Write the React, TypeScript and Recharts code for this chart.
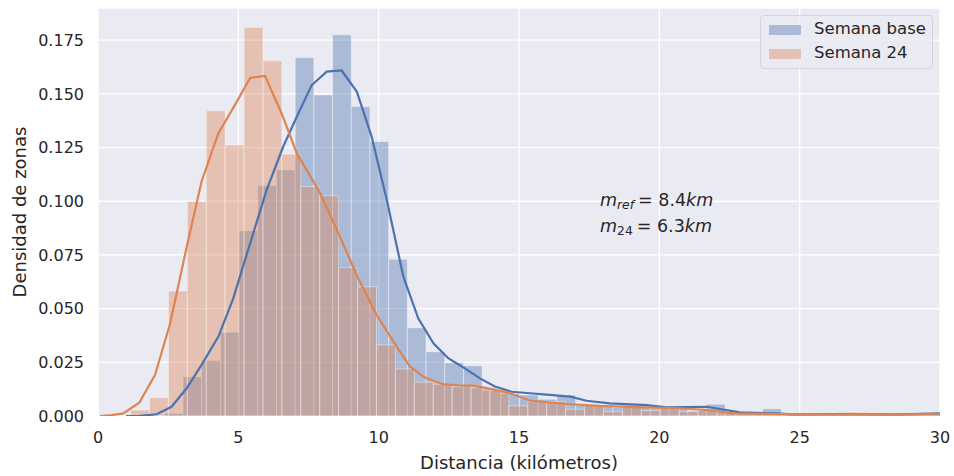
import React from 'react';
import { ComposedChart, Line, XAxis, YAxis, CartesianGrid, ReferenceArea } from 'recharts';

const BLUE = '#4C72B0';
const ORANGE = '#DD8452';
const TEXT = '#262626';
const FONT = 'DejaVu Sans';

// histogram bins (km): first left edge and bin width, densities
const baseBinStart = 2.364;
const baseBinWidth = 0.666;
const baseHeights = [
  0.0012, 0.0183, 0.0258, 0.039, 0.0863, 0.1073, 0.1146, 0.1669, 0.1495, 0.1775,
  0.1441, 0.1278, 0.073, 0.0411, 0.0299, 0.0248, 0.0234, 0.012, 0.0105, 0.0098,
  0.0078, 0.0098, 0.005, 0.0045, 0.004, 0.0045, 0.0036, 0.004, 0.0025, 0.0055,
  0.0016, 0.0012, 0.0034, 0.001, 0.0008, 0.0008, 0.0017, 0.001, 0.0008, 0.001,
  0.0012, 0.0015,
];

const w24BinStart = 1.16;
const w24BinWidth = 0.674;
const w24Heights = [
  0.0028, 0.0085, 0.0582, 0.0999, 0.1421, 0.1262, 0.181, 0.1654, 0.1219, 0.1068,
  0.1026, 0.0691, 0.0602, 0.0331, 0.0219, 0.0157, 0.0148, 0.0137, 0.0132, 0.0121,
  0.0047, 0.0067, 0.0067, 0.0031, 0.0051, 0.002, 0.0054, 0.0025, 0.0043, 0.002,
  0.0036, 0.0016, 0.001, 0.001, 0.0008, 0.0006, 0.0006, 0.0008, 0.0018, 0.0008,
  0.0006, 0.0008, 0.0012,
];

// KDE curves
const baseKdeX = [
  1.0, 1.5, 2.09, 2.62, 3.16, 3.69, 4.29, 4.82, 5.42, 6.01, 6.6, 7.14, 7.61, 8.15, 8.68,
  9.22, 9.75, 10.29, 10.88, 11.41, 11.95, 12.48, 13.07, 13.61, 14.14, 14.74, 15.39, 16.1,
  16.82, 17.41, 18.24, 19.55, 20.26, 21.69, 22.87, 24.18, 24.77, 26.2, 28.57, 30,
];
const baseKdeY = [
  0, 0.0001, 0.0008, 0.0043, 0.0129, 0.0238, 0.037, 0.0548, 0.0804, 0.1053, 0.1255, 0.141,
  0.154, 0.1604, 0.1609, 0.1511, 0.1301, 0.1006, 0.0649, 0.0455, 0.0339, 0.0269, 0.0222,
  0.0175, 0.0137, 0.0113, 0.0106, 0.0098, 0.009, 0.0071, 0.0059, 0.0051, 0.004, 0.0043,
  0.0017, 0.0012, 0.0008, 0.0009, 0.0008, 0.0012,
];

const w24KdeX = [
  0.07, 0.5, 0.9, 1.47, 2.03, 2.57, 3.16, 3.69, 4.29, 4.88, 5.42, 5.95, 6.54, 7.08, 7.91,
  8.62, 9.27, 9.93, 10.64, 11.12, 11.65, 12.3, 13.01, 13.37, 14.08, 14.68, 15.39, 16.7,
  17.88, 19.42, 20.73, 21.69, 22.63, 24.4, 26.2, 27.38, 28.57, 30,
];
const w24KdeY = [
  0, 0.0004, 0.0012, 0.0062, 0.0191, 0.0431, 0.0787, 0.1092, 0.1317, 0.1449, 0.1574,
  0.1584, 0.141, 0.1224, 0.104, 0.0835, 0.0641, 0.047, 0.0323, 0.023, 0.0179, 0.0148,
  0.0141, 0.0141, 0.0124, 0.0106, 0.0072, 0.0056, 0.0047, 0.004, 0.0036, 0.0028, 0.0012,
  0.0009, 0.0008, 0.0009, 0.0008, 0.0009,
];

const xTicks = [0, 5, 10, 15, 20, 25, 30];
const yTicks = [0, 0.025, 0.05, 0.075, 0.1, 0.125, 0.15, 0.175];

const toPoints = (xs: number[], ys: number[]) => xs.map((x, i) => ({ x, y: ys[i] }));
const baseKde = toPoints(baseKdeX, baseKdeY);
const w24Kde = toPoints(w24KdeX, w24KdeY);

const bins = (start: number, width: number, heights: number[]) =>
  heights.map((h, i) => ({ x1: start + i * width, x2: start + (i + 1) * width, h }));

const baseBins = bins(baseBinStart, baseBinWidth, baseHeights);
const w24Bins = bins(w24BinStart, w24BinWidth, w24Heights);

const renderBins = (list: { x1: number; x2: number; h: number }[], color: string, key: string) =>
  list.map((b, i) => (
    <ReferenceArea
      key={key + i}
      x1={b.x1}
      x2={b.x2}
      y1={0}
      y2={b.h}
      fill={color}
      fillOpacity={0.4}
      stroke="#ffffff"
      strokeOpacity={0.4}
      strokeWidth={1}
      ifOverflow="hidden"
    />
  ));

const YLabel = () => (
  <text
    transform="translate(19,212) rotate(-90)"
    textAnchor="middle"
    dominantBaseline="central"
    fontFamily={FONT}
    fontSize={18}
    fill={TEXT}
  >
    Densidad de zonas
  </text>
);

export default function App() {
  return (
    <div style={{ position: 'absolute', left: 0, top: 0, width: 954, height: 476, fontFamily: FONT }}>
      <ComposedChart width={954} height={476} margin={{ top: 8, right: 14, left: 0, bottom: 0 }}>
        <CartesianGrid fill="#EAEAF2" stroke="#ffffff" strokeWidth={1.3} />
        <XAxis
          type="number"
          dataKey="x"
          domain={[0, 30]}
          ticks={xTicks}
          allowDataOverflow
          height={60}
          tickLine={false}
          axisLine={false}
          tickMargin={10}
          tick={{ fill: TEXT, fontSize: 16, fontFamily: FONT }}
          label={{
            value: 'Distancia (kilómetros)',
            position: 'insideBottom',
            offset: 7,
            fill: TEXT,
            fontSize: 18,
            fontFamily: FONT,
          }}
        />
        <YAxis
          type="number"
          domain={[0, 0.19]}
          ticks={yTicks}
          allowDataOverflow
          width={98}
          tickLine={false}
          axisLine={false}
          tickMargin={8}
          tickFormatter={(v: number) => v.toFixed(3)}
          tick={{ fill: TEXT, fontSize: 16, fontFamily: FONT }}
          label={{ content: () => <YLabel /> }}
        />
        {renderBins(baseBins, BLUE, 'b')}
        {renderBins(w24Bins, ORANGE, 'o')}
        <Line
          data={baseKde}
          dataKey="y"
          type="linear"
          stroke={BLUE}
          strokeWidth={2.2}
          dot={false}
          isAnimationActive={false}
        />
        <Line
          data={w24Kde}
          dataKey="y"
          type="linear"
          stroke={ORANGE}
          strokeWidth={2.2}
          dot={false}
          isAnimationActive={false}
        />
      </ComposedChart>

      <svg width={954} height={476} style={{ position: 'absolute', left: 0, top: 0, pointerEvents: 'none' }}>
        <text x={600} y={206} fontFamily={FONT} fontSize={17.5} fill={TEXT}>
          <tspan fontStyle="italic">m</tspan>
          <tspan fontStyle="italic" fontSize={12.3} dy={3}>ref</tspan>
          <tspan dy={-3} dx={4}>{'= 8.4'}</tspan>
          <tspan fontStyle="italic">km</tspan>
        </text>
        <text x={600} y={232} fontFamily={FONT} fontSize={17.5} fill={TEXT}>
          <tspan fontStyle="italic">m</tspan>
          <tspan fontSize={12.3} dy={3}>24</tspan>
          <tspan dy={-3} dx={4}>{'= 6.3'}</tspan>
          <tspan fontStyle="italic">km</tspan>
        </text>
      </svg>

      <div
        style={{
          position: 'absolute',
          left: 760,
          top: 15,
          width: 171,
          height: 52,
          boxSizing: 'content-box',
          background: 'rgba(234,234,242,0.8)',
          border: '1px solid #d4d4dc',
          borderRadius: 4,
          fontSize: 16.5,
          color: TEXT,
        }}
      >
        {[
          { name: 'Semana base', color: BLUE, top: 9 },
          { name: 'Semana 24', color: ORANGE, top: 33 },
        ].map((it) => (
          <div key={it.name} style={{ position: 'absolute', left: 0, top: it.top, height: 10, width: 171 }}>
            <div
              style={{
                position: 'absolute',
                left: 8,
                top: 0,
                width: 32,
                height: 10,
                background: it.color,
                opacity: 0.4,
              }}
            />
            <div style={{ position: 'absolute', left: 53, top: -6, lineHeight: '20px', whiteSpace: 'nowrap' }}>
              {it.name}
            </div>
          </div>
        ))}
      </div>
    </div>
  );
}
